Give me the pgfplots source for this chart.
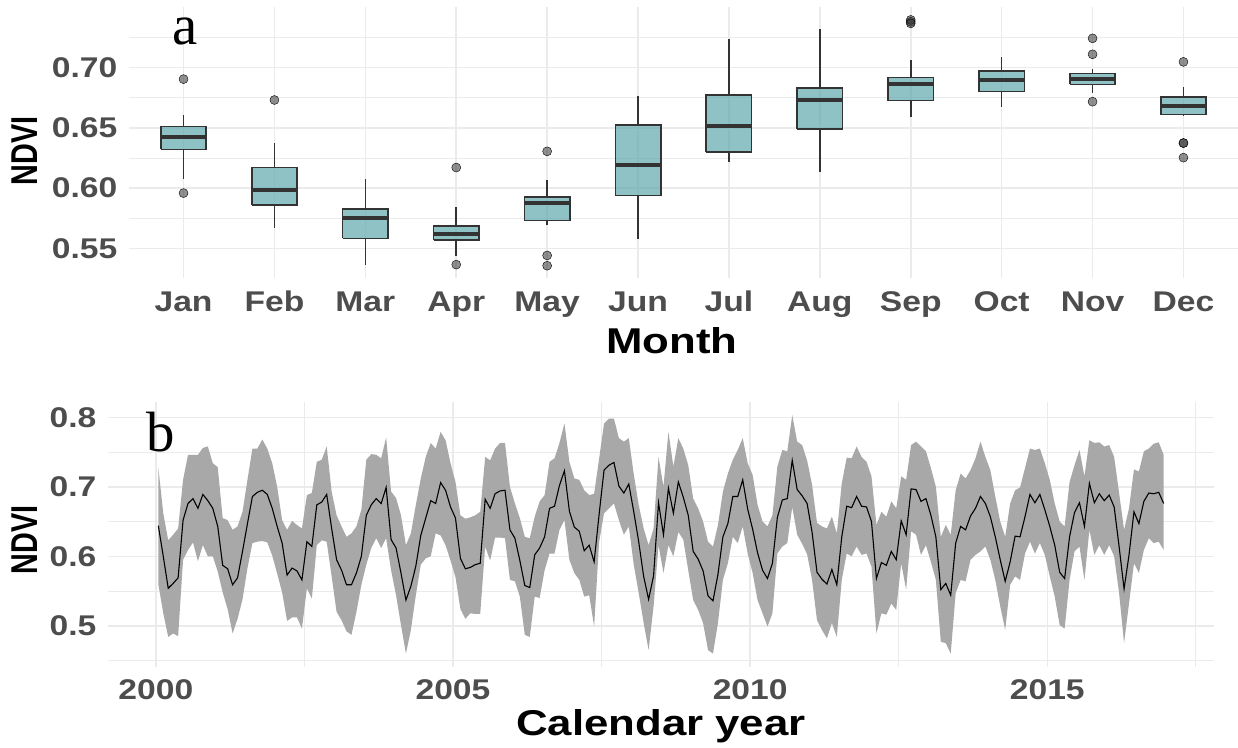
\documentclass[border=0pt]{standalone}
\usepackage{fontspec}
\setmainfont{Liberation Sans}[FakeStretch=1.18]
\newfontfamily\titlefont{Liberation Sans}[FakeStretch=1.22]
\newfontfamily\ytitlefont{Liberation Sans}[FakeStretch=0.77]
\newfontfamily\panelfont{Liberation Serif}
\usepackage{pgfplots}
\usepackage{pgfplotstable}
\pgfplotsset{compat=1.18}

\definecolor{boxteal}{RGB}{95,168,171}
\definecolor{grey20}{RGB}{51,51,51}
\definecolor{tickgrey}{RGB}{77,77,77}
\definecolor{gridgrey}{RGB}{235,235,235}
\definecolor{bandgrey}{RGB}{168,168,168}

% ---- (a) box plot pieces, one month per block -------------------------
% boxes: lower to upper quartile, half-width 0.25
\pgfplotstableread[row sep=\\]{
x y\\
0.75 0.6322\\ 1.25 0.6322\\ 1.25 0.6511\\ 0.75 0.6511\\ 0.75 0.6322\\ nan nan\\
1.75 0.5860\\ 2.25 0.5860\\ 2.25 0.6171\\ 1.75 0.6171\\ 1.75 0.5860\\ nan nan\\
2.75 0.5583\\ 3.25 0.5583\\ 3.25 0.5825\\ 2.75 0.5825\\ 2.75 0.5583\\ nan nan\\
3.75 0.5569\\ 4.25 0.5569\\ 4.25 0.5685\\ 3.75 0.5685\\ 3.75 0.5569\\ nan nan\\
4.75 0.5731\\ 5.25 0.5731\\ 5.25 0.5926\\ 4.75 0.5926\\ 4.75 0.5731\\ nan nan\\
5.75 0.5940\\ 6.25 0.5940\\ 6.25 0.6525\\ 5.75 0.6525\\ 5.75 0.5940\\ nan nan\\
6.75 0.6300\\ 7.25 0.6300\\ 7.25 0.6773\\ 6.75 0.6773\\ 6.75 0.6300\\ nan nan\\
7.75 0.6492\\ 8.25 0.6492\\ 8.25 0.6830\\ 7.75 0.6830\\ 7.75 0.6492\\ nan nan\\
8.75 0.6726\\ 9.25 0.6726\\ 9.25 0.6918\\ 8.75 0.6918\\ 8.75 0.6726\\ nan nan\\
9.75 0.6800\\ 10.25 0.6800\\ 10.25 0.6970\\ 9.75 0.6970\\ 9.75 0.6800\\ nan nan\\
10.75 0.6860\\ 11.25 0.6860\\ 11.25 0.6951\\ 10.75 0.6951\\ 10.75 0.6860\\ nan nan\\
11.75 0.6610\\ 12.25 0.6610\\ 12.25 0.6756\\ 11.75 0.6756\\ 11.75 0.6610\\
}\boxoutline

% medians
\pgfplotstableread[row sep=\\]{
x y\\
0.75 0.6421\\ 1.25 0.6421\\ nan nan\\ 1.75 0.5981\\ 2.25 0.5981\\ nan nan\\
2.75 0.5751\\ 3.25 0.5751\\ nan nan\\ 3.75 0.5621\\ 4.25 0.5621\\ nan nan\\
4.75 0.5877\\ 5.25 0.5877\\ nan nan\\ 5.75 0.6190\\ 6.25 0.6190\\ nan nan\\
6.75 0.6514\\ 7.25 0.6514\\ nan nan\\ 7.75 0.6734\\ 8.25 0.6734\\ nan nan\\
8.75 0.6863\\ 9.25 0.6863\\ nan nan\\ 9.75 0.6896\\ 10.25 0.6896\\ nan nan\\
10.75 0.6901\\ 11.25 0.6901\\ nan nan\\ 11.75 0.6682\\ 12.25 0.6682\\
}\boxmedian

% whiskers: upper quartile to upper whisker, lower quartile to lower whisker
\pgfplotstableread[row sep=\\]{
x y\\
1 0.6511\\ 1 0.6608\\ nan nan\\ 1 0.6322\\ 1 0.6074\\ nan nan\\
2 0.6171\\ 2 0.6377\\ nan nan\\ 2 0.5860\\ 2 0.5673\\ nan nan\\
3 0.5825\\ 3 0.6072\\ nan nan\\ 3 0.5583\\ 3 0.5366\\ nan nan\\
4 0.5685\\ 4 0.5846\\ nan nan\\ 4 0.5569\\ 4 0.5440\\ nan nan\\
5 0.5926\\ 5 0.6066\\ nan nan\\ 5 0.5731\\ 5 0.5693\\ nan nan\\
6 0.6525\\ 6 0.6767\\ nan nan\\ 6 0.5940\\ 6 0.5580\\ nan nan\\
7 0.6773\\ 7 0.7234\\ nan nan\\ 7 0.6300\\ 7 0.6217\\ nan nan\\
8 0.6830\\ 8 0.7316\\ nan nan\\ 8 0.6492\\ 8 0.6135\\ nan nan\\
9 0.6918\\ 9 0.7061\\ nan nan\\ 9 0.6726\\ 9 0.6586\\ nan nan\\
10 0.6970\\ 10 0.7088\\ nan nan\\ 10 0.6800\\ 10 0.6676\\ nan nan\\
11 0.6951\\ 11 0.6987\\ nan nan\\ 11 0.6860\\ 11 0.6792\\ nan nan\\
12 0.6756\\ 12 0.6838\\ nan nan\\ 12 0.6610\\ 12 0.6602\\
}\boxwhisker

% outlying months
\pgfplotstableread[row sep=\\]{
x y\\
1 0.6904\\ 1 0.5959\\ 2 0.6731\\ 4 0.6171\\ 4 0.5366\\
5 0.6305\\ 5 0.5442\\ 5 0.5357\\ 9 0.7379\\ 9 0.7395\\ 9 0.7366\\
11 0.7242\\ 11 0.7110\\ 11 0.6717\\
12 0.7047\\ 12 0.6374\\ 12 0.6374\\ 12 0.6253\\
}\boxoutlier

% ---- (b) monthly mean NDVI, t = months since Jan 2000 ------------------
\pgfplotstableread[row sep=\\]{
t mean\\
0 0.644\\ 1 0.600\\ 2 0.554\\ 3 0.561\\ 4 0.569\\ 5 0.652\\ 6 0.676\\ 7 0.683\\
8 0.669\\ 9 0.689\\ 10 0.680\\ 11 0.669\\ 12 0.643\\ 13 0.587\\ 14 0.582\\ 15 0.559\\
16 0.569\\ 17 0.607\\ 18 0.647\\ 19 0.686\\ 20 0.692\\ 21 0.695\\ 22 0.689\\ 23 0.669\\
24 0.643\\ 25 0.619\\ 26 0.573\\ 27 0.583\\ 28 0.579\\ 29 0.566\\ 30 0.621\\ 31 0.614\\
32 0.674\\ 33 0.678\\ 34 0.689\\ 35 0.640\\ 36 0.595\\ 37 0.580\\ 38 0.559\\ 39 0.559\\
40 0.576\\ 41 0.600\\ 42 0.659\\ 43 0.674\\ 44 0.683\\ 45 0.676\\ 46 0.699\\ 47 0.624\\
48 0.612\\ 49 0.576\\ 50 0.537\\ 51 0.557\\ 52 0.586\\ 53 0.630\\ 54 0.655\\ 55 0.680\\
56 0.676\\ 57 0.706\\ 58 0.695\\ 59 0.671\\ 60 0.655\\ 61 0.597\\ 62 0.582\\ 63 0.584\\
64 0.588\\ 65 0.590\\ 66 0.682\\ 67 0.669\\ 68 0.690\\ 69 0.694\\ 70 0.695\\ 71 0.638\\
72 0.626\\ 73 0.594\\ 74 0.558\\ 75 0.555\\ 76 0.602\\ 77 0.612\\ 78 0.628\\ 79 0.669\\
80 0.672\\ 81 0.702\\ 82 0.723\\ 83 0.665\\ 84 0.642\\ 85 0.636\\ 86 0.608\\ 87 0.616\\
88 0.592\\ 89 0.660\\ 90 0.724\\ 91 0.731\\ 92 0.735\\ 93 0.701\\ 94 0.691\\ 95 0.704\\
96 0.664\\ 97 0.621\\ 98 0.571\\ 99 0.538\\ 100 0.572\\ 101 0.677\\ 102 0.631\\ 103 0.698\\
104 0.662\\ 105 0.707\\ 106 0.685\\ 107 0.659\\ 108 0.607\\ 109 0.596\\ 110 0.579\\ 111 0.543\\
112 0.536\\ 113 0.574\\ 114 0.628\\ 115 0.647\\ 116 0.686\\ 117 0.686\\ 118 0.710\\ 119 0.668\\
120 0.639\\ 121 0.605\\ 122 0.580\\ 123 0.568\\ 124 0.590\\ 125 0.656\\ 126 0.681\\ 127 0.683\\
128 0.738\\ 129 0.696\\ 130 0.687\\ 131 0.676\\ 132 0.635\\ 133 0.577\\ 134 0.567\\ 135 0.560\\
136 0.581\\ 137 0.559\\ 138 0.628\\ 139 0.672\\ 140 0.670\\ 141 0.686\\ 142 0.672\\ 143 0.671\\
144 0.650\\ 145 0.568\\ 146 0.591\\ 147 0.587\\ 148 0.607\\ 149 0.595\\ 150 0.651\\ 151 0.631\\
152 0.697\\ 153 0.696\\ 154 0.679\\ 155 0.683\\ 156 0.659\\ 157 0.628\\ 158 0.552\\ 159 0.561\\
160 0.544\\ 161 0.619\\ 162 0.643\\ 163 0.638\\ 164 0.658\\ 165 0.669\\ 166 0.686\\ 167 0.676\\
168 0.657\\ 169 0.628\\ 170 0.595\\ 171 0.564\\ 172 0.592\\ 173 0.629\\ 174 0.628\\ 175 0.657\\
176 0.689\\ 177 0.677\\ 178 0.689\\ 179 0.667\\ 180 0.643\\ 181 0.616\\ 182 0.577\\ 183 0.568\\
184 0.628\\ 185 0.663\\ 186 0.677\\ 187 0.643\\ 188 0.705\\ 189 0.677\\ 190 0.690\\ 191 0.680\\
192 0.688\\ 193 0.671\\ 194 0.614\\ 195 0.553\\ 196 0.602\\ 197 0.664\\ 198 0.647\\ 199 0.679\\
200 0.691\\ 201 0.690\\ 202 0.692\\ 203 0.676\\
}\ndvimean

% outline of the spread band: upper edge forward in time, lower edge backward
\pgfplotstableread[row sep=\\]{
t v\\
0 0.728\\ 1 0.662\\ 2 0.623\\ 3 0.631\\ 4 0.640\\ 5 0.710\\ 6 0.746\\ 7 0.746\\
8 0.746\\ 9 0.756\\ 10 0.758\\ 11 0.734\\ 12 0.728\\ 13 0.655\\ 14 0.652\\ 15 0.638\\
16 0.643\\ 17 0.664\\ 18 0.710\\ 19 0.755\\ 20 0.755\\ 21 0.768\\ 22 0.755\\ 23 0.734\\
24 0.700\\ 25 0.652\\ 26 0.638\\ 27 0.651\\ 28 0.645\\ 29 0.640\\ 30 0.688\\ 31 0.691\\
32 0.736\\ 33 0.739\\ 34 0.758\\ 35 0.693\\ 36 0.659\\ 37 0.643\\ 38 0.628\\ 39 0.633\\
40 0.643\\ 41 0.667\\ 42 0.739\\ 43 0.747\\ 44 0.746\\ 45 0.741\\ 46 0.771\\ 47 0.693\\
48 0.684\\ 49 0.659\\ 50 0.616\\ 51 0.633\\ 52 0.674\\ 53 0.712\\ 54 0.743\\ 55 0.763\\
56 0.755\\ 57 0.779\\ 58 0.767\\ 59 0.734\\ 60 0.707\\ 61 0.659\\ 62 0.654\\ 63 0.656\\
64 0.659\\ 65 0.664\\ 66 0.743\\ 67 0.738\\ 68 0.755\\ 69 0.763\\ 70 0.763\\ 71 0.700\\
72 0.676\\ 73 0.655\\ 74 0.628\\ 75 0.626\\ 76 0.657\\ 77 0.679\\ 78 0.688\\ 79 0.736\\
80 0.741\\ 81 0.763\\ 82 0.791\\ 83 0.736\\ 84 0.712\\ 85 0.710\\ 86 0.695\\ 87 0.688\\
88 0.690\\ 89 0.740\\ 90 0.791\\ 91 0.798\\ 92 0.798\\ 93 0.770\\ 94 0.765\\ 95 0.770\\
96 0.718\\ 97 0.674\\ 98 0.640\\ 99 0.616\\ 100 0.640\\ 101 0.743\\ 102 0.700\\ 103 0.779\\
104 0.729\\ 105 0.770\\ 106 0.755\\ 107 0.731\\ 108 0.683\\ 109 0.669\\ 110 0.650\\ 111 0.621\\
112 0.614\\ 113 0.645\\ 114 0.693\\ 115 0.719\\ 116 0.739\\ 117 0.753\\ 118 0.770\\ 119 0.734\\
120 0.717\\ 121 0.674\\ 122 0.650\\ 123 0.643\\ 124 0.659\\ 125 0.729\\ 126 0.753\\ 127 0.751\\
128 0.803\\ 129 0.765\\ 130 0.760\\ 131 0.738\\ 132 0.703\\ 133 0.648\\ 134 0.643\\ 135 0.640\\
136 0.657\\ 137 0.633\\ 138 0.705\\ 139 0.742\\ 140 0.741\\ 141 0.758\\ 142 0.743\\ 143 0.736\\
144 0.715\\ 145 0.645\\ 146 0.664\\ 147 0.657\\ 148 0.679\\ 149 0.669\\ 150 0.715\\ 151 0.710\\
152 0.760\\ 153 0.765\\ 154 0.758\\ 155 0.751\\ 156 0.727\\ 157 0.700\\ 158 0.628\\ 159 0.645\\
160 0.631\\ 161 0.695\\ 162 0.719\\ 163 0.712\\ 164 0.724\\ 165 0.741\\ 166 0.765\\ 167 0.743\\
168 0.724\\ 169 0.686\\ 170 0.650\\ 171 0.628\\ 172 0.676\\ 173 0.695\\ 174 0.699\\ 175 0.727\\
176 0.755\\ 177 0.753\\ 178 0.755\\ 179 0.734\\ 180 0.710\\ 181 0.676\\ 182 0.650\\ 183 0.643\\
184 0.707\\ 185 0.731\\ 186 0.753\\ 187 0.715\\ 188 0.767\\ 189 0.763\\ 190 0.764\\ 191 0.758\\
192 0.760\\ 193 0.743\\ 194 0.691\\ 195 0.638\\ 196 0.669\\ 197 0.725\\ 198 0.722\\ 199 0.751\\
200 0.755\\ 201 0.762\\ 202 0.764\\ 203 0.746\\
203 0.609\\ 202 0.621\\ 201 0.619\\ 200 0.626\\ 199 0.609\\ 198 0.576\\ 197 0.590\\ 196 0.532\\
195 0.475\\ 194 0.547\\ 193 0.600\\ 192 0.616\\ 191 0.602\\ 190 0.616\\ 189 0.602\\ 188 0.638\\
187 0.566\\ 186 0.614\\ 185 0.607\\ 184 0.566\\ 183 0.496\\ 182 0.501\\ 181 0.542\\ 180 0.571\\
179 0.602\\ 178 0.619\\ 177 0.604\\ 176 0.621\\ 175 0.604\\ 174 0.566\\ 173 0.571\\ 172 0.559\\
171 0.494\\ 170 0.528\\ 169 0.566\\ 168 0.595\\ 167 0.614\\ 166 0.607\\ 165 0.602\\ 164 0.595\\
163 0.564\\ 162 0.566\\ 161 0.547\\ 160 0.460\\ 159 0.475\\ 158 0.477\\ 157 0.566\\ 156 0.592\\
155 0.616\\ 154 0.602\\ 153 0.631\\ 152 0.636\\ 151 0.552\\ 150 0.590\\ 149 0.523\\ 148 0.532\\
147 0.516\\ 146 0.518\\ 145 0.489\\ 144 0.585\\ 143 0.604\\ 142 0.602\\ 141 0.614\\ 140 0.600\\
139 0.604\\ 138 0.566\\ 137 0.484\\ 136 0.504\\ 135 0.482\\ 134 0.494\\ 133 0.508\\ 132 0.566\\
131 0.603\\ 130 0.618\\ 129 0.631\\ 128 0.671\\ 127 0.619\\ 126 0.614\\ 125 0.604\\ 124 0.518\\
123 0.499\\ 122 0.518\\ 121 0.537\\ 120 0.576\\ 119 0.604\\ 118 0.643\\ 117 0.619\\ 116 0.628\\
115 0.590\\ 114 0.566\\ 113 0.504\\ 112 0.460\\ 111 0.465\\ 110 0.504\\ 109 0.523\\ 108 0.537\\
107 0.580\\ 106 0.624\\ 105 0.635\\ 104 0.600\\ 103 0.616\\ 102 0.576\\ 101 0.616\\ 100 0.528\\
99 0.465\\ 98 0.504\\ 97 0.547\\ 96 0.588\\ 95 0.643\\ 94 0.631\\ 93 0.652\\ 92 0.676\\
91 0.669\\ 90 0.662\\ 89 0.620\\ 88 0.499\\ 87 0.544\\ 86 0.542\\ 85 0.566\\ 84 0.576\\
83 0.595\\ 82 0.652\\ 81 0.638\\ 80 0.604\\ 79 0.604\\ 78 0.580\\ 77 0.540\\ 76 0.542\\
75 0.484\\ 74 0.487\\ 73 0.542\\ 72 0.564\\ 71 0.566\\ 70 0.626\\ 69 0.627\\ 68 0.627\\
67 0.594\\ 66 0.614\\ 65 0.517\\ 64 0.517\\ 63 0.518\\ 62 0.510\\ 61 0.524\\ 60 0.570\\
59 0.594\\ 58 0.616\\ 57 0.630\\ 56 0.633\\ 55 0.600\\ 54 0.597\\ 53 0.588\\ 52 0.544\\
51 0.494\\ 50 0.460\\ 49 0.501\\ 48 0.544\\ 47 0.580\\ 46 0.626\\ 45 0.612\\ 44 0.626\\
43 0.612\\ 42 0.588\\ 41 0.559\\ 40 0.520\\ 39 0.487\\ 38 0.492\\ 37 0.508\\ 36 0.520\\
35 0.571\\ 34 0.621\\ 33 0.623\\ 32 0.616\\ 31 0.539\\ 30 0.554\\ 29 0.496\\ 28 0.512\\
27 0.512\\ 26 0.507\\ 25 0.548\\ 24 0.575\\ 23 0.601\\ 22 0.620\\ 21 0.622\\ 20 0.621\\
19 0.619\\ 18 0.583\\ 17 0.538\\ 16 0.510\\ 15 0.489\\ 14 0.524\\ 13 0.548\\ 12 0.578\\
11 0.600\\ 10 0.600\\ 9 0.616\\ 8 0.593\\ 7 0.620\\ 6 0.609\\ 5 0.595\\ 4 0.485\\
3 0.489\\ 2 0.484\\ 1 0.518\\ 0 0.560\\
}\ndviband

\pgfplotsset{
  ggstyle/.style={
    scale only axis,
    axis line style={draw=none},
    major tick length=0pt, minor tick length=0pt,
    major grid style={gridgrey, line width=1.5bp},
    minor grid style={gridgrey, line width=0.9bp},
    tick label style={font=\fontsize{28.6}{28.6}\selectfont\bfseries, text=tickgrey, inner sep=0pt},
    xlabel style={font=\titlefont\fontsize{36}{36}\selectfont\bfseries, text=black, inner sep=0pt},
    ylabel style={font=\ytitlefont\fontsize{37.5}{37.5}\selectfont\bfseries, text=black, inner sep=0pt},
    yticklabel style={anchor=east, xshift=-11.5bp},
    unbounded coords=jump,
  },
}

\begin{document}
\begin{tikzpicture}
\useasboundingbox (0,0) rectangle (1238bp,-748bp);

% (a) distribution of NDVI by calendar month
\begin{axis}[ggstyle,
  at={(129bp,-7bp)}, anchor=north west,
  width=1109bp, height=271bp,
  xmin=0.4, xmax=12.6, ymin=0.5255, ymax=0.7502,
  xtick={1,...,12},
  xticklabels={Jan,Feb,Mar,Apr,May,Jun,Jul,Aug,Sep,Oct,Nov,Dec},
  xticklabel style={anchor=base, yshift=-33bp},
  ytick={0.55,0.6,0.65,0.7}, yticklabels={0.55,0.60,0.65,0.70},
  minor ytick={0.575,0.625,0.675,0.725},
  xmajorgrids, ymajorgrids, yminorgrids,
  xlabel={Month}, ylabel={NDVI},
  xlabel style={at={(axis description cs:0.4896,-0.2804)}, anchor=base},
  ylabel style={at={(axis description cs:-0.0938,0.4686)}, anchor=center},
]
\addplot[grey20, line width=1.6bp] table {\boxwhisker};
\addplot[fill=boxteal, fill opacity=0.7, draw=grey20, line width=1.6bp, line join=miter] table {\boxoutline};
\addplot[grey20, line width=4bp] table {\boxmedian};
\addplot[only marks, mark=*, mark size=4.5bp,
  mark options={draw=none, fill=grey20, fill opacity=0.55}] table {\boxoutlier};
\node[font=\panelfont\fontsize{57}{57}\selectfont, anchor=base, inner sep=0pt]
  at (axis description cs:0.0505,0.8598) {a};
\end{axis}

% (b) monthly series with its spread
\begin{axis}[ggstyle,
  at={(108bp,-401.7bp)}, anchor=north west,
  width=1106bp, height=265.3bp,
  xmin=1999.195, xmax=2017.805, ymin=0.4407, ymax=0.8224,
  xtick={2000,2005,2010,2015}, xticklabels={2000,2005,2010,2015},
  minor xtick={2002.5,2007.5,2012.5,2017.5},
  xticklabel style={anchor=base, yshift=-32bp},
  ytick={0.5,0.6,0.7,0.8}, yticklabels={0.5,0.6,0.7,0.8},
  minor ytick={0.45,0.55,0.65,0.75},
  xmajorgrids, xminorgrids, ymajorgrids, yminorgrids,
  xlabel={Calendar year}, ylabel={NDVI},
  xlabel style={at={(axis description cs:0.5,-0.260)}, anchor=base},
  ylabel style={at={(axis description cs:-0.075,0.4787)}, anchor=center},
]
\addplot[fill=bandgrey, draw=none] table[x expr=2000+(\thisrow{t}+0.5)/12, y=v] {\ndviband};
\addplot[black, line width=1.1bp] table[x expr=2000+(\thisrow{t}+0.5)/12, y=mean] {\ndvimean};
\node[font=\panelfont\fontsize{57}{57}\selectfont, anchor=base, inner sep=0pt]
  at (axis description cs:0.0475,0.814) {b};
\end{axis}
\end{tikzpicture}
\end{document}
